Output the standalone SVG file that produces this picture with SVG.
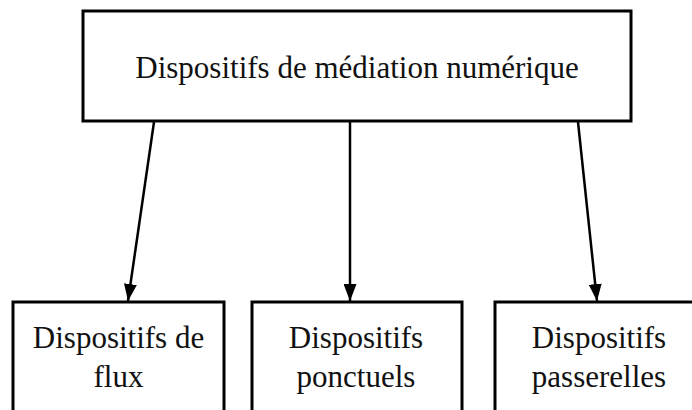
<svg xmlns="http://www.w3.org/2000/svg" width="692" height="410" viewBox="0 0 692 410">
<defs>
<style>
.box{fill:#fff;stroke:#000;stroke-width:3}
.lbl{font-family:"Liberation Serif","Times New Roman",serif;font-size:31px;fill:#111;text-anchor:middle}
.conn{stroke:#000;stroke-width:2.5;fill:none;marker-end:url(#arr)}
</style>
<marker id="arr" viewBox="0 0 17 13" refX="17" refY="6.5" markerWidth="17" markerHeight="13" markerUnits="userSpaceOnUse" orient="auto">
<path d="M0,0 L17,6.5 L0,13 Z" fill="#000"/>
</marker>
</defs>
<rect width="692" height="410" fill="#fff"/>
<g id="connectors">
<line class="conn" x1="154" y1="122" x2="128" y2="301"/>
<line class="conn" x1="350" y1="122" x2="350" y2="301"/>
<line class="conn" x1="578" y1="122" x2="597" y2="301"/>
</g>
<g id="root">
<rect class="box" x="83" y="11" width="548" height="110"/>
<text class="lbl" x="357" y="78">Dispositifs de médiation numérique</text>
</g>
<g id="flux">
<rect class="box" x="13" y="302" width="211" height="130"/>
<text class="lbl" x="118.5" y="348">Dispositifs de</text>
<text class="lbl" x="118.5" y="387">flux</text>
</g>
<g id="ponctuels">
<rect class="box" x="252" y="302" width="210" height="130"/>
<text class="lbl" x="356" y="348">Dispositifs</text>
<text class="lbl" x="356" y="387">ponctuels</text>
</g>
<g id="passerelles">
<rect class="box" x="495" y="302" width="210" height="130"/>
<text class="lbl" x="599" y="348">Dispositifs</text>
<text class="lbl" x="599" y="387">passerelles</text>
</g>
</svg>
